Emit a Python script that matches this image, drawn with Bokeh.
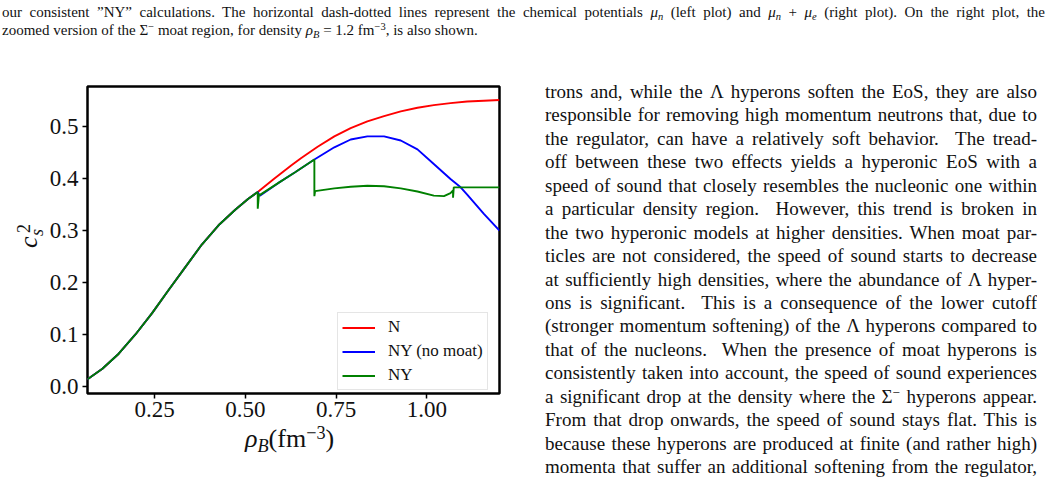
from bokeh.plotting import figure
from bokeh.models import Range1d, FixedTicker, Div
from bokeh.layouts import row, column
from bokeh.embed import file_html
from bokeh.resources import INLINE

# ---------------- data ----------------
rho_common = [0.064, 0.106, 0.151, 0.197, 0.243, 0.288, 0.334, 0.380, 0.426, 0.472, 0.508, 0.534]
cs2_common = [0.0135, 0.034, 0.063, 0.100, 0.141, 0.185, 0.229, 0.273, 0.310, 0.340, 0.361, 0.374]

rho_N_high = [0.580, 0.626, 0.653, 0.699, 0.745, 0.790, 0.836, 0.882, 0.928, 0.974, 1.019, 1.065, 1.111, 1.157, 1.200]
cs2_N_high = [0.400, 0.425, 0.439, 0.461, 0.481, 0.497, 0.510, 0.520, 0.529, 0.536, 0.541, 0.545, 0.548, 0.5495, 0.551]

rho_NYnm_high = [0.540, 0.590, 0.637, 0.690, 0.745, 0.790, 0.836, 0.882, 0.928, 0.974, 1.019, 1.065, 1.093, 1.111, 1.157, 1.200]
cs2_NYnm_high = [0.367, 0.391, 0.412, 0.4365, 0.460, 0.475, 0.481, 0.481, 0.473, 0.456, 0.428, 0.399, 0.383, 0.369, 0.332, 0.300]

rho_NY_high = [0.534, 0.537, 0.590, 0.637, 0.690, 0.690, 0.692, 0.745, 0.790, 0.836, 0.882, 0.928, 0.974,
               1.019, 1.047, 1.065, 1.072, 1.072, 1.074, 1.200]
cs2_NY_high = [0.342, 0.367, 0.391, 0.412, 0.4365, 0.366, 0.3757, 0.381, 0.384, 0.386, 0.385, 0.381, 0.375,
               0.367, 0.366, 0.372, 0.377, 0.363, 0.383, 0.383]

series_names = ["N", "NY (no moat)", "NY"]
series_colors = ["#ff0000", "#0000ff", "#008000"]

x_ticks = [0.25, 0.50, 0.75, 1.00]
x_tick_labels = ["0.25", "0.50", "0.75", "1.00"]
y_ticks = [0.0, 0.1, 0.2, 0.3, 0.4, 0.5]
y_tick_labels = ["0.0", "0.1", "0.2", "0.3", "0.4", "0.5"]

x_title_html = '<i>\u03c1</i><sub><i>B</i></sub>(fm<sup>\u22123</sup>)'
y_title_c, y_title_sup, y_title_sub = "c", "2", "s"

caption_line1 = ('our consistent \u201dNY\u201d calculations. The horizontal dash-dotted lines represent the chemical '
                 'potentials <i>\u03bc<sub>n</sub></i> (left plot) and <i>\u03bc<sub>n</sub></i> + <i>\u03bc<sub>e</sub></i> '
                 '(right plot). On the right plot, the')
caption_line2 = ('zoomed version of the \u03a3<sup>\u2212</sup> moat region, for density <i>\u03c1<sub>B</sub></i> = 1.2 '
                 'fm<sup>\u22123</sup>, is also shown.')

body_lines = [
    "trons and, while the \u039b hyperons soften the EoS, they are also",
    "responsible for removing high momentum neutrons that, due to",
    "the regulator, can have a relatively soft behavior. &nbsp;The tread-",
    "off between these two effects yields a hyperonic EoS with a",
    "speed of sound that closely resembles the nucleonic one within",
    "a particular density region. &nbsp;However, this trend is broken in",
    "the two hyperonic models at higher densities. When moat par-",
    "ticles are not considered, the speed of sound starts to decrease",
    "at sufficiently high densities, where the abundance of \u039b hyper-",
    "ons is significant. &nbsp;This is a consequence of the lower cutoff",
    "(stronger momentum softening) of the \u039b hyperons compared to",
    "that of the nucleons. &nbsp;When the presence of moat hyperons is",
    "consistently taken into account, the speed of sound experiences",
    "a significant drop at the density where the \u03a3<sup>\u2212</sup> hyperons appear.",
    "From that drop onwards, the speed of sound stays flat. This is",
    "because these hyperons are produced at finite (and rather high)",
    "momenta that suffer an additional softening from the regulator,",
]

# ---------------- plot ----------------
SERIF = "Liberation Serif"
X0, X1 = 0.065, 1.2
Y0, Y1 = -0.0135, 0.5769

p = figure(width=495, height=381, x_range=Range1d(X0, X1), y_range=Range1d(Y0, Y1),
           output_backend="svg", toolbar_location=None, title=None,
           min_border_left=40, min_border_right=42, min_border_top=38, min_border_bottom=36)
p.margin = 0
p.background_fill_color = "white"
p.border_fill_color = None
p.outline_line_color = "black"
p.outline_line_width = 2.5
p.xgrid.grid_line_color = None
p.ygrid.grid_line_color = None

for ax in (p.xaxis[0], p.yaxis[0]):
    ax.axis_line_color = None
    ax.minor_tick_line_color = None
    ax.major_tick_in = 0
    ax.major_tick_out = 5
    ax.major_tick_line_width = 1.5
    ax.major_label_text_font = SERIF
    ax.major_label_text_font_size = "23px"
    ax.major_label_text_color = "#111111"

p.xaxis[0].ticker = FixedTicker(ticks=x_ticks)
p.xaxis[0].major_label_overrides = {t: s for t, s in zip(x_ticks, x_tick_labels)}
p.xaxis[0].major_label_standoff = 3
p.yaxis[0].ticker = FixedTicker(ticks=y_ticks)
p.yaxis[0].major_label_overrides = {t: s for t, s in zip(y_ticks, y_tick_labels)}
p.yaxis[0].major_label_standoff = 4

series_x = [rho_common + rho_N_high, rho_common + rho_NYnm_high, rho_common + rho_NY_high]
series_y = [cs2_common + cs2_N_high, cs2_common + cs2_NYnm_high, cs2_common + cs2_NY_high]
for xs, ys, name, col in zip(series_x, series_y, series_names, series_colors):
    p.line(xs, ys, line_color=col, line_width=1.9, legend_label=name)

lg = p.legend[0]
lg.location = (250, 3)
lg.margin = 0
lg.padding = 4
lg.spacing = 4
lg.glyph_width = 33
lg.glyph_height = 19
lg.label_height = 19
lg.label_standoff = 13
lg.label_text_font = SERIF
lg.label_text_font_size = "17px"
lg.label_text_color = "#111111"
lg.border_line_color = "#cccccc"
lg.border_line_width = 1
lg.background_fill_alpha = 0.8

# ---------------- axis titles and page text (HTML with sub/superscripts) ----------------
SUBSUP = ("<style>sub,sup{font-size:70%;line-height:0;} sub{vertical-align:-0.25em;} "
          "sup{vertical-align:0.45em;}</style>")

ylab = Div(text=(
    '<div style="position:relative;width:46px;height:381px;">'
    '<div style="position:absolute;left:29px;top:194px;width:12px;height:26px;'
    'transform:translate(-50%,-50%) rotate(-90deg);font-family:\'Liberation Serif\';'
    'font-size:26px;line-height:26px;white-space:nowrap;color:#111;">'
    '<i>' + y_title_c + '</i>'
    '<span style="position:absolute;left:15px;top:-1px;font-size:18px;line-height:18px;">'
    + y_title_sup + '</span>'
    '<span style="position:absolute;left:12px;top:12px;font-size:18px;line-height:18px;font-style:italic;">'
    + y_title_sub + '</span>'
    '</div></div>'),
    width=46, height=381, margin=0)

xlab = Div(text=SUBSUP +
           '<div style="position:relative;width:545px;height:35px;">'
           '<div style="position:absolute;left:245px;top:-3px;font-family:\'Liberation Serif\';font-size:26px;'
           'line-height:26px;white-space:nowrap;color:#111;">' + x_title_html + '</div></div>',
           width=545, height=35, margin=0)

cap_html = (SUBSUP +
            '<div style="font-family:\'Liberation Serif\';font-size:15px;color:#111;'
            'margin:3px 0 0 2px;width:1043px;">'
            '<div style="text-align:justify;text-align-last:justify;white-space:nowrap;'
            'line-height:18px;height:18px;">' + caption_line1 + '</div>'
            '<div style="white-space:nowrap;line-height:18px;height:18px;">' + caption_line2 + '</div>'
            '</div>')
caption = Div(text=cap_html, width=1054, height=48, margin=0)

body_html = (SUBSUP +
             '<div style="font-family:\'Liberation Serif\';font-size:19px;color:#111;box-sizing:border-box;'
             'padding-top:32px;width:492px;height:444px;overflow:hidden;">' +
             "".join('<div style="text-align:justify;text-align-last:justify;white-space:nowrap;'
                     'line-height:23.45px;height:23.45px;">' + ln + '</div>' for ln in body_lines) +
             '</div>')
body = Div(text=body_html, width=509, height=444, margin=0)

left_col = column(row(ylab, p, spacing=0), xlab, spacing=0)
layout = column(caption, row(left_col, body, spacing=0), spacing=0)

open("out.html", "w").write(file_html(layout, INLINE))
